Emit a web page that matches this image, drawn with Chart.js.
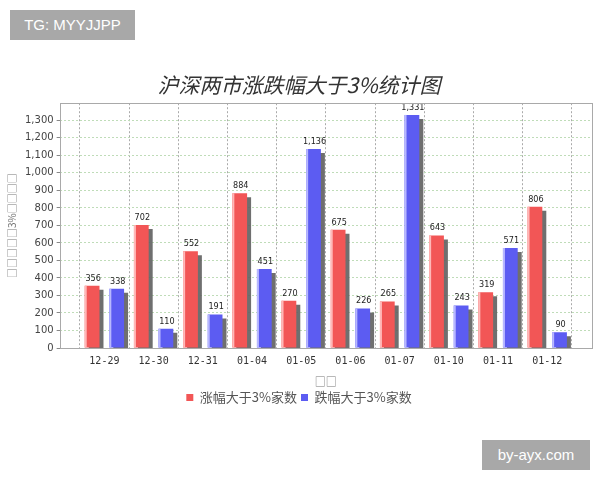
<!DOCTYPE html>
<html>
<head>
<meta charset="utf-8">
<script src="https://cdn.jsdelivr.net/npm/chart.js@4"></script>
<style>
  body { margin: 0; background: #fff; }
  #wrap { position: relative; width: 600px; height: 480px; }
  .tag { position: absolute; background: #a8a8a8; color: #fff; font: 15px "Liberation Sans", Arial, sans-serif; line-height: 30px; text-align: center; }
</style>
</head>
<body>
<div id="wrap">
  <canvas id="myChart" width="600" height="480"></canvas>
  <div class="tag" style="left:10px;top:10px;width:125px;height:30px;">TG: MYYJJPP</div>
  <div class="tag" style="left:482px;top:440px;width:108px;height:30px;">by-ayx.com</div>
</div>
<script>
const dates = ["12-29", "12-30", "12-31", "01-04", "01-05", "01-06", "01-07", "01-10", "01-11", "01-12"];
const upCounts = [356, 702, 552, 884, 270, 675, 265, 643, 319, 806];
const downCounts = [338, 110, 191, 451, 1136, 226, 1331, 243, 571, 90];
const yTicks = [0, 100, 200, 300, 400, 500, 600, 700, 800, 900, 1000, 1100, 1200, 1300];

const cjk = '"Noto Sans CJK SC", "DejaVu Sans", sans-serif';
const fmt = (v) => v.toLocaleString("en-US");
const edgeColors = ["#ffb8b8", "#b8b8ff"];

// bar shadows, light left edge, value labels, plot frame
const barExtras = {
  id: "barExtras",
  beforeDatasetsDraw(chart) {
    const ctx = chart.ctx;
    ctx.save();
    ctx.shadowColor = "rgba(95,95,95,0.9)";
    ctx.shadowOffsetX = 4;
    ctx.shadowOffsetY = 4;
    ctx.shadowBlur = 0;
  },
  afterDatasetsDraw(chart) {
    const ctx = chart.ctx;
    ctx.restore();
    ctx.save();
    chart.data.datasets.forEach((ds, i) => {
      ctx.fillStyle = edgeColors[i];
      chart.getDatasetMeta(i).data.forEach((bar) => {
        ctx.fillRect(bar.x - bar.width / 2, bar.y, 2, bar.base - bar.y);
      });
    });
    ctx.font = '9px "Liberation Sans Narrow", "DejaVu Sans Condensed", sans-serif';
    ctx.fillStyle = "#222";
    ctx.textAlign = "center";
    ctx.textBaseline = "bottom";
    chart.data.datasets.forEach((ds, i) => {
      chart.getDatasetMeta(i).data.forEach((bar, j) => {
        ctx.fillText(fmt(ds.data[j].y), bar.x + 1, bar.y - 3);
      });
    });
    ctx.restore();
    const a = chart.chartArea;
    ctx.save();
    ctx.strokeStyle = "#a9a9a9";
    ctx.lineWidth = 1;
    ctx.strokeRect(Math.round(a.left) + 0.5, Math.round(a.top) + 0.5, Math.round(a.right - a.left), Math.round(a.bottom - a.top));
    ctx.restore();
  }
};

const data = {
  datasets: [
    {
      label: "涨幅大于3%家数",
      data: upCounts.map((v, i) => ({ x: i, y: v })),
      backgroundColor: "#f25656"
    },
    {
      label: "跌幅大于3%家数",
      data: downCounts.map((v, i) => ({ x: i, y: v })),
      backgroundColor: "#5c5cf2"
    }
  ]
};

const config = {
  type: "bar",
  data: data,
  plugins: [barExtras],
  options: {
    responsive: false,
    animation: false,
    categoryPercentage: 1.0,
    barPercentage: 0.6,
    layout: { padding: { top: 72, left: 6, right: 8, bottom: 66 } },
    plugins: {
      tooltip: { enabled: false },
      title: {
        display: true,
        text: "沪深两市涨跌幅大于3%统计图",
        color: "#333",
        font: { family: cjk, size: 21, style: "italic", weight: "normal" },
        padding: { top: 0, bottom: 6 }
      },
      legend: {
        position: "bottom",
        labels: {
          color: "#555",
          font: { family: cjk, size: 13 },
          usePointStyle: true,
          boxWidth: 7,
          boxHeight: 7,
          padding: 4,
          generateLabels: (chart) => chart.data.datasets.map((ds, i) => ({
            text: ds.label,
            fillStyle: ds.backgroundColor,
            strokeStyle: ds.backgroundColor,
            lineWidth: 0,
            pointStyle: "rect",
            datasetIndex: i,
            hidden: false,
            fontColor: "#555"
          }))
        }
      }
    },
    scales: {
      x: {
        type: "linear",
        min: -0.91,
        max: 9.91,
        offset: false,
        afterBuildTicks: (scale) => { scale.ticks = dates.map((d, i) => ({ value: i })); },
        ticks: {
          color: "#333",
          font: { family: '"DejaVu Sans Mono", monospace', size: 10, lineHeight: 1 },
          padding: 8,
          callback: (v) => dates[v]
        },
        grid: { color: "#aaa", drawTicks: false },
        border: { display: false, dash: [2, 2] },
        title: {
          display: true,
          text: "□□",
          color: "#777",
          font: { family: cjk, size: 11, lineHeight: 1 },
          padding: { top: 2, bottom: 0 }
        }
      },
      y: {
        min: 0,
        max: 1398,
        afterBuildTicks: (scale) => { scale.ticks = yTicks.map((v) => ({ value: v })); },
        ticks: {
          color: "#444",
          font: { family: '"DejaVu Sans", sans-serif', size: 10 },
          padding: 3,
          callback: (v) => fmt(v)
        },
        grid: { color: "#bfdcb8", tickColor: "#888", tickLength: 3 },
        border: { display: false, dash: [2, 2] },
        title: {
          display: true,
          text: "□□□□□3%□□□□",
          color: "#777",
          font: { family: cjk, size: 10 },
          padding: { top: 0, bottom: 4 }
        }
      }
    }
  }
};

const ctx = document.getElementById("myChart").getContext("2d");
const myChart = new Chart(ctx, config);
</script>
</body>
</html>
